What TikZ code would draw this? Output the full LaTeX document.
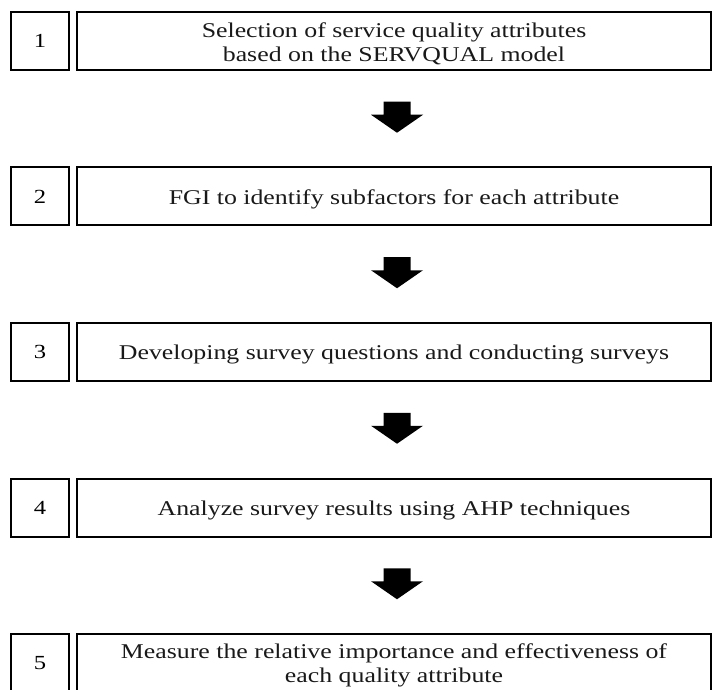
\documentclass[tikz,border=0pt]{standalone}
\usepackage{fontspec}
\setmainfont[FakeStretch=1.23]{Liberation Serif}
\usetikzlibrary{calc}
\begin{document}
\begin{tikzpicture}[x=1pt,y=-1pt,
  numbox/.style={draw=black,line width=2pt,minimum width=58pt,minimum height=58pt,inner sep=0pt,font=\fontsize{20}{24}\selectfont},
  stepbox/.style={draw=black,line width=2pt,minimum width=634pt,minimum height=58pt,inner sep=0pt},
  steptext/.style={align=center,inner sep=0pt,text=black!90,font=\fontsize{21}{24}\selectfont},
  downarrow/.style={fill=black}]
\useasboundingbox (0,0) rectangle (713,690);
\foreach \i/\y/\t in {1/41/{Selection of service quality attributes\\based on the SERVQUAL model},
                      2/196.5/{FGI to identify subfactors for each attribute},
                      3/352/{Developing survey questions and conducting surveys},
                      4/507.5/{Analyze survey results using AHP techniques},
                      5/663/{Measure the relative importance and effectiveness of\\each quality attribute}}{
  \node[numbox] (n\i) at (40,\y) {\i};
  \node[stepbox] (s\i) at (394,\y) {};
  \node[steptext] (t\i) at ($(s\i.center)+(0,2.5)$) {\t};
}
% block arrows between consecutive steps
\foreach \a/\b in {1/2,2/3,3/4,4/5}{
  \coordinate (m\a) at ($(s\a.south)!0.5!(s\b.north)+(3,-1.5)$);
  \fill[downarrow] ($(m\a)+(-13.5,-15.5)$) -- ++(27,0) -- ++(0,13) -- ++(12.5,0)
     -- ++(-26,18) -- ++(-26,-18) -- ++(12.5,0) -- cycle;
}
\end{tikzpicture}
\end{document}
